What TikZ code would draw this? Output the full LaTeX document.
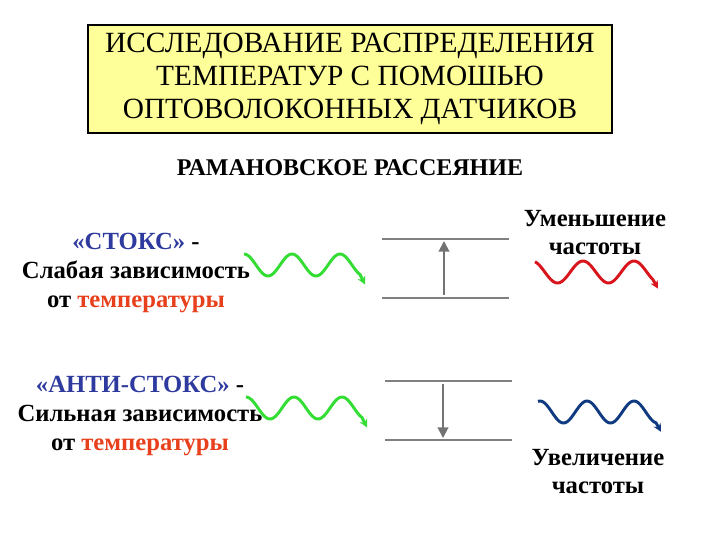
\documentclass[tikz,border=0pt]{standalone}
\usepackage{fontspec}
\setmainfont{Liberation Serif}
\usetikzlibrary{arrows.meta}
\definecolor{titlebg}{HTML}{FFFF99}
\definecolor{sblue}{HTML}{2E3A9E}
\definecolor{tred}{HTML}{E8401C}
\definecolor{wgreen}{HTML}{33DD33}
\definecolor{wred}{HTML}{D8141C}
\definecolor{wblue}{HTML}{0F3A80}
\begin{document}
\begin{tikzpicture}[x=0.75pt,y=-0.75pt,
  txt/.style={font=\bfseries\fontsize{18.5}{21}\selectfont,align=center,inner sep=0},
  wave/.style={line width=2.2pt,-{Stealth[length=6pt,width=6pt]}},
  level/.style={draw=gray,line width=0.8pt},
  tr/.style={gray!90!black,line width=1.5pt,-{Triangle[length=8pt,width=8pt]}}]
\useasboundingbox (0,0) rectangle (720,540);
\node[draw,fill=titlebg,line width=1pt,minimum width=524*0.75pt,minimum height=108*0.75pt,txt,font=\fontsize{22}{25}\selectfont] (title) at (350,79)
 {ИССЛЕДОВАНИЕ РАСПРЕДЕЛЕНИЯ\\ТЕМПЕРАТУР С ПОМОШЬЮ\\ОПТОВОЛОКОННЫХ ДАТЧИКОВ};
\node[txt,font=\bfseries\fontsize{18}{21}\selectfont] (raman) at (350,168) {РАМАНОВСКОЕ РАССЕЯНИЕ};
\node[txt,font=\bfseries\fontsize{18.5}{21.5}\selectfont] (stokes) at (136,273) {{\color{sblue}«СТОКС»} -\\Слабая зависимость\\от {\color{tred}температуры}};
\node[txt,font=\bfseries\fontsize{18.5}{21.5}\selectfont] (astokes) at (140,416) {{\color{sblue}«АНТИ-СТОКС»} -\\Сильная зависимость\\от {\color{tred}температуры}};
\node[txt] (dec) at (595,233) {Уменьшение\\частоты};
\node[txt] (inc) at (598,472) {Увеличение\\частоты};
% levels
\coordinate (a1) at (382,239); \coordinate (a2) at (509,239);
\coordinate (b1) at (382,298); \coordinate (b2) at (509,298);
\coordinate (c1) at (385,381); \coordinate (c2) at (512,381);
\coordinate (d1) at (385,440); \coordinate (d2) at (512,440);
\draw[level] (a1) -- (a2); \draw[level] (b1) -- (b2);
\draw[level] (c1) -- (c2); \draw[level] (d1) -- (d2);
\coordinate (u1) at (444,295); \coordinate (u2) at (444,241);
\coordinate (v1) at (443,384); \coordinate (v2) at (443,438);
\draw[tr] (u1) -- (u2);
\draw[tr] (v1) -- (v2);
% waves
\draw[wave,wgreen] plot[domain=244:360,samples=80,smooth] (\x,{265-11*cos(7.5*(\x-292))}) -- ++(5,10);
\draw[wave,wgreen] plot[domain=246:362,samples=80,smooth] (\x,{408-11*cos(7.5*(\x-294))}) -- ++(5,10);
\draw[wave,wred] plot[domain=535:653,samples=80,smooth] (\x,{272-11*cos(7.06*(\x-583))}) -- ++(5,9);
\draw[wave,wblue] plot[domain=538:656,samples=80,smooth] (\x,{412-11*cos(7.66*(\x-587))}) -- ++(5,9);
\end{tikzpicture}
\end{document}
